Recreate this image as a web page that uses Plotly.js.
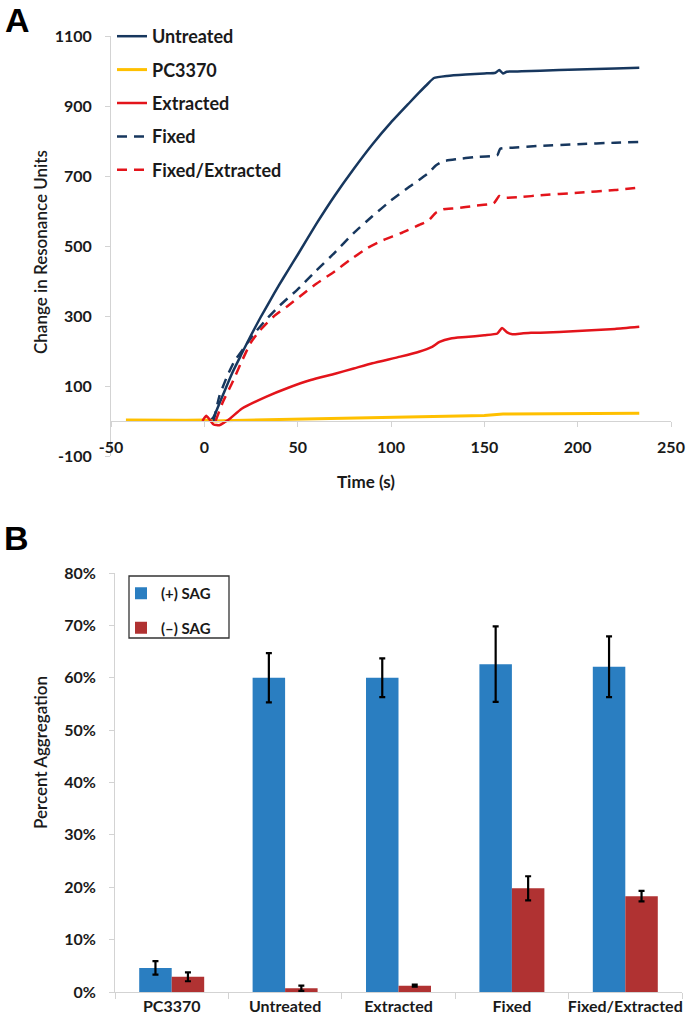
<!DOCTYPE html>
<html><head><meta charset="utf-8">
<script src="https://cdn.plot.ly/plotly-3.0.1.min.js"></script>
<style>html,body{margin:0;padding:0;background:#fff}#chart{width:693px;height:1018px}</style>
</head><body><div id="chart"></div>
<script>
// ---------- Panel A: resonance units vs time ----------
const untreatedX = [3, 5, 10, 15, 20, 25, 30, 35, 40, 45, 50, 60, 70, 80, 90, 100, 110, 115, 120, 123, 130, 140, 150, 156, 158, 160, 162, 170, 180, 200, 220, 233];
const untreatedY = [0, 12, 75, 138, 192, 245, 295, 342, 388, 432, 475, 563, 645, 720, 790, 853, 910, 938, 965, 980, 986, 990, 993, 995, 1003, 993, 998, 999, 1001, 1004, 1007, 1009];

const pc3370X = [-42, -30, -20, -10, 0, 5, 10, 50, 100, 150, 160, 200, 233];
const pc3370Y = [3, 2, 1, 2, 3, 0, 1, 5, 10, 16, 20, 20, 22];

const extractedX = [-1, 1, 3, 5, 8, 11, 14, 20, 33, 45, 57, 70, 80, 90, 105, 115, 122, 126, 132, 140, 150, 157, 159.5, 162, 165, 170, 175, 180, 200, 210, 220, 233];
const extractedY = [0, 15, 3, -10, -12, -3, 8, 35, 69, 95, 117, 135, 150, 165, 184, 198, 212, 226, 236, 240, 245, 250, 266, 254, 248, 250, 252, 252, 257, 260, 263, 269];

const fixedX = [5, 8, 12, 16, 21, 26, 33, 40, 50, 60, 70, 80, 90, 100, 110, 120, 124, 128, 135, 145, 157, 158.5, 165, 180, 200, 220, 233];
const fixedY = [0, 70, 125, 170, 207, 245, 289, 328, 376, 430, 482, 537, 585, 630, 670, 708, 730, 742, 748, 754, 760, 778, 781, 786, 791, 795, 797];

const fixedExtX = [6, 10, 15, 20, 25, 30, 37, 45, 51, 60, 70, 78, 87, 95, 105, 115, 120, 124, 128, 135, 145, 155, 158, 160, 170, 180, 200, 220, 233];
const fixedExtY = [0, 55, 110, 170, 225, 260, 298, 330, 355, 392, 428, 460, 493, 515, 536, 560, 572, 595, 605, 608, 615, 622, 643, 638, 640, 645, 652, 660, 667];

const xTicksA = [-50, 0, 50, 100, 150, 200, 250];
const yTicksA = [-100, 100, 300, 500, 700, 900, 1100];

// ---------- Panel B: percent aggregation ----------
const categories = ['PC3370', 'Untreated', 'Extracted', 'Fixed', 'Fixed/Extracted'];
const plusSag = [0.046, 0.600, 0.600, 0.626, 0.621];
const plusSagErr = [0.013, 0.047, 0.037, 0.072, 0.058];
const minusSag = [0.029, 0.007, 0.012, 0.198, 0.183];
const minusSagErr = [0.0085, 0.005, 0.002, 0.023, 0.010];

const NAVY = '#17375E', YEL = '#FFC000', RED = '#E3141B';
const BLUE = '#2A7EC1', DRED = '#B03232';
const AX = '#d3d3d3';
const FONT = 'Lato, "Open Sans", "DejaVu Sans", sans-serif';

function line(name, x, y, color, dash, w, grp, shape) {
  return {type:'scatter', mode:'lines', name, x, y, xaxis:'x', yaxis:'y',
    line:{color, width:w, dash, shape:shape || 'linear', smoothing:0.5}, legend:'legend', legendgroup:grp};
}

const data = [
  line('Untreated', untreatedX, untreatedY, NAVY, 'solid', 2.5, 'a1', 'spline'),
  line('PC3370', pc3370X, pc3370Y, YEL, 'solid', 3, 'a2'),
  line('Extracted', extractedX, extractedY, RED, 'solid', 2.5, 'a3', 'spline'),
  line('Fixed', fixedX, fixedY, NAVY, '10px,7px', 2.5, 'a4', 'spline'),
  line('Fixed/Extracted', fixedExtX, fixedExtY, RED, '10px,7px', 2.5, 'a5', 'spline'),
  {type:'bar', name:'(+) SAG', x:categories, y:plusSag, xaxis:'x2', yaxis:'y2',
   marker:{color:BLUE}, legend:'legend2', legendgroup:'b1',
   error_y:{type:'data', array:plusSagErr, visible:true, color:'#000', thickness:2.2, width:3}},
  {type:'bar', name:'(\u2013) SAG', x:categories, y:minusSag, xaxis:'x2', yaxis:'y2',
   marker:{color:DRED}, legend:'legend2', legendgroup:'b2',
   error_y:{type:'data', array:minusSagErr, visible:true, color:'#000', thickness:2.2, width:3}}
];

const W = 693, H = 1018;
const px = v => v / W, py = v => 1 - v / H;
const tickFont = {family:FONT, size:16, weight:'bold', color:'#1a1a1a'};

const layout = {
  width:W, height:H, margin:{l:0, r:0, t:0, b:0},
  paper_bgcolor:'#fff', plot_bgcolor:'rgba(0,0,0,0)',
  font:{family:FONT, color:'#1a1a1a'},
  showlegend:true,
  barmode:'group', bargap:0.427, bargroupgap:0,
  xaxis:{domain:[px(111), px(671)], range:[-50,250], anchor:'free', position:py(421),
    tickvals:xTicksA, ticktext:xTicksA.map(String), showgrid:false, zeroline:false, showline:true, linecolor:AX, linewidth:1,
    ticks:'outside', ticklen:5, tickcolor:AX, tickfont:tickFont, ticklabelstandoff:7, automargin:false, fixedrange:true},
  yaxis:{domain:[py(456), py(36)], range:[-100,1100], anchor:'x', tickvals:yTicksA, ticktext:yTicksA.map(String),
    showgrid:false, zeroline:false, showline:true, linecolor:AX, linewidth:1,
    ticks:'outside', ticklen:5, tickcolor:AX, tickfont:tickFont, ticklabelstandoff:10, automargin:false, fixedrange:true},
  xaxis2:{domain:[px(115), px(682)], anchor:'y2', type:'category', tickson:'boundaries', tickangle:0,
    ticks:'outside', ticklen:6, tickcolor:AX, showline:true, linecolor:AX, linewidth:1,
    tickfont:{family:FONT, size:16, weight:'bold', color:'#1a1a1a'}, automargin:false, fixedrange:true},
  yaxis2:{domain:[py(992), py(573)], anchor:'x2', range:[0,0.8], dtick:0.1, tickformat:'.0%',
    showgrid:false, zeroline:false, showline:true, linecolor:AX, linewidth:1,
    ticks:'outside', ticklen:5, tickcolor:AX, tickfont:tickFont, ticklabelstandoff:10, automargin:false, fixedrange:true},
  legend:{x:px(112), y:py(18), xanchor:'left', yanchor:'top', bgcolor:'rgba(0,0,0,0)',
    font:{family:FONT, size:18, weight:'bold', color:'#1a1a1a'}, tracegroupgap:7, itemwidth:30},
  legend2:{x:px(121), y:py(577), xanchor:'left', yanchor:'top', bgcolor:'rgba(0,0,0,0)',
    borderwidth:0,
    font:{family:FONT, size:15, weight:'bold', color:'#1a1a1a'}, tracegroupgap:12, itemwidth:30},
  shapes:[
    {type:'rect', xref:'paper', yref:'paper', x0:px(129), x1:px(229), y0:py(638), y1:py(576),
     line:{color:'#333', width:1.3}, fillcolor:'rgba(255,255,255,0)', layer:'above'}
  ],
  annotations:[
    {text:'A', x:px(17), y:py(20), xref:'paper', yref:'paper', showarrow:false, xanchor:'center', yanchor:'middle',
     font:{family:'"Liberation Sans", Arial, sans-serif', size:34, weight:'bold', color:'#000'}},
    {text:'B', x:px(16), y:py(538), xref:'paper', yref:'paper', showarrow:false, xanchor:'center', yanchor:'middle',
     font:{family:'"Liberation Sans", Arial, sans-serif', size:34, weight:'bold', color:'#000'}},
    {text:'Change in Resonance Units', x:px(41), y:py(252), xref:'paper', yref:'paper', showarrow:false,
     textangle:-90, xanchor:'center', yanchor:'middle', font:{family:FONT, size:17, weight:600, color:'#1a1a1a'}},
    {text:'Time (s)', x:px(366), y:py(481), xref:'paper', yref:'paper', showarrow:false,
     xanchor:'center', yanchor:'middle', font:{family:FONT, size:17, weight:'bold', color:'#1a1a1a'}},
    {text:'Percent Aggregation', x:px(40), y:py(753), xref:'paper', yref:'paper', showarrow:false,
     textangle:-90, xanchor:'center', yanchor:'middle', font:{family:FONT, size:17, weight:600, color:'#1a1a1a'}}
  ]
};

Plotly.newPlot('chart', data, layout, {displayModeBar:false, staticPlot:true});
</script></body></html>
